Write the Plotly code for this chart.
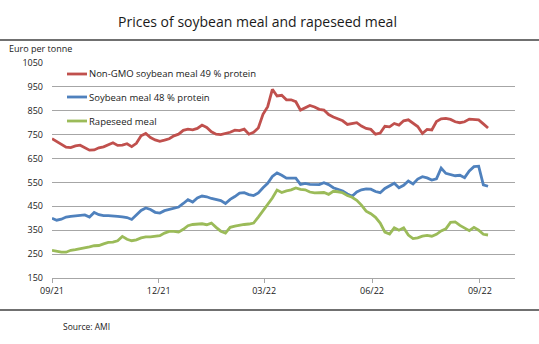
import pandas as pd
import plotly.graph_objects as go

# Price observations every four days, 1 Sep 2021 to 8 Sep 2022 (EUR/t)
dates = pd.date_range("2021-09-01", periods=94, freq="4D")

non_gmo_soy = [733, 721, 708, 698, 696, 703, 706, 697, 685, 686,
               695, 699, 706, 716, 705, 706, 712, 700, 714, 745,
               755, 738, 728, 722, 727, 733, 745, 752, 768, 773,
               770, 776, 790, 780, 762, 752, 750, 754, 760, 769,
               767, 773, 752, 760, 778, 835, 867, 940, 912, 915,
               896, 896, 888, 853, 864, 872, 866, 856, 853, 834,
               824, 815, 808, 793, 796, 800, 786, 776, 772, 752,
               757, 785, 783, 797, 790, 808, 812, 798, 784, 755,
               772, 770, 805, 816, 818, 814, 804, 800, 804, 815,
               812, 812, 795, 778]

soy_48 = [400, 392, 396, 405, 408, 410, 413, 414, 405, 424,
          415, 411, 411, 408, 408, 406, 403, 395, 413, 433,
          443, 437, 425, 422, 432, 437, 441, 447, 462, 478,
          468, 485, 493, 490, 483, 479, 474, 462, 479, 491,
          505, 507, 499, 495, 506, 528, 546, 575, 590, 580,
          568, 568, 568, 542, 546, 542, 540, 541, 549, 541,
          528, 521, 514, 502, 492, 510, 519, 523, 522, 512,
          507, 525, 535, 547, 528, 538, 556, 544, 564, 574,
          569, 560, 565, 610, 588, 582, 578, 580, 570, 598,
          616, 618, 540, 534]

rapeseed = [266, 262, 258, 258, 266, 269, 272, 276, 280, 285,
            286, 293, 299, 300, 306, 324, 312, 306, 310, 318,
            322, 322, 325, 327, 338, 345, 345, 342, 354, 369,
            374, 374, 377, 373, 380, 362, 346, 338, 362, 367,
            372, 374, 376, 380, 405, 432, 460, 485, 518, 508,
            515, 519, 527, 521, 519, 510, 506, 508, 508, 500,
            513, 511, 507, 495, 488, 475, 455, 430, 419, 404,
            380, 342, 334, 360, 350, 360, 330, 315, 318, 325,
            328, 325, 333, 347, 356, 383, 385, 370, 360, 348,
            362, 350, 333, 330]

series_names = ["Non-GMO soybean meal 49 % protein",
                "Soybean meal 48 % protein",
                "Rapeseed meal"]
series_values = [non_gmo_soy, soy_48, rapeseed]
series_colors = ["#C0504D", "#4F81BD", "#9BBB59"]

tick_dates = ["2021-09-01", "2021-12-01", "2022-03-01", "2022-06-01", "2022-09-01"]
tick_labels = ["09/21", "12/21", "03/22", "06/22", "09/22"]

FONT = "Open Sans"
TEXT = "#1a1a1a"

fig = go.Figure()
for name, vals, col in zip(series_names, series_values, series_colors):
    fig.add_trace(go.Scatter(x=dates, y=vals, mode="lines", name=name,
                             line=dict(color=col, width=2.8),
                             showlegend=False))

W, H = 539, 344
ml, mr, mt, mb = 52, 24, 63, 66
pw, ph = W - ml - mr, H - mt - mb

def px_x(x):
    return (x - ml) / pw

def px_y(y):
    return (H - mb - y) / ph

shapes = [
    # rules above and below the chart body
    dict(type="line", xref="paper", yref="paper", x0=px_x(0), x1=px_x(W),
         y0=px_y(40), y1=px_y(40), line=dict(color="#404040", width=1.3)),
    dict(type="line", xref="paper", yref="paper", x0=px_x(0), x1=px_x(W),
         y0=px_y(310), y1=px_y(310), line=dict(color="#404040", width=1.3)),
]
annotations = [
    dict(text="Euro per tonne", xref="paper", yref="paper", x=px_x(7), y=px_y(48),
         xanchor="left", yanchor="middle", showarrow=False,
         font=dict(family=FONT, size=9, color=TEXT)),
    dict(text="Source: AMI", xref="paper", yref="paper", x=px_x(61), y=px_y(326),
         xanchor="left", yanchor="middle", showarrow=False,
         font=dict(family=FONT, size=8.5, color=TEXT)),
]

# in-plot legend
legend_rows = [74, 97, 121]
for name, col, ly in zip(series_names, series_colors, legend_rows):
    shapes.append(dict(type="line", xref="paper", yref="paper",
                       x0=px_x(67), x1=px_x(87), y0=px_y(ly), y1=px_y(ly),
                       line=dict(color=col, width=2.8)))
    annotations.append(dict(text=name, xref="paper", yref="paper",
                            x=px_x(87), y=px_y(ly), xanchor="left", yanchor="middle",
                            showarrow=False,
                            font=dict(family=FONT, size=9.5, color=TEXT)))

fig.update_layout(
    width=W, height=H,
    margin=dict(l=ml, r=mr, t=mt, b=mb),
    paper_bgcolor="white", plot_bgcolor="white",
    title=dict(text="Prices of soybean meal and rapeseed meal",
               x=257.5 / W, xref="container", xanchor="center",
               y=1 - 22 / H, yref="container", yanchor="middle",
               font=dict(family=FONT, size=14, color=TEXT)),
    shapes=shapes,
    annotations=annotations,
    xaxis=dict(type="date", range=["2021-09-01", "2022-10-01"],
               tickvals=tick_dates, ticktext=tick_labels,
               showgrid=False, showline=True, linecolor="#A6A6A6", linewidth=1,
               ticks="outside", ticklen=4, tickcolor="#A6A6A6",
               tickfont=dict(family=FONT, size=9, color=TEXT),
               zeroline=False),
    yaxis=dict(range=[150, 1050], tick0=150, dtick=100,
               showgrid=True, gridcolor="#A6A6A6", gridwidth=1,
               showline=False, zeroline=False,
               ticklabelstandoff=8,
               tickfont=dict(family=FONT, size=9, color=TEXT)),
)

fig.write_html("out.html")
